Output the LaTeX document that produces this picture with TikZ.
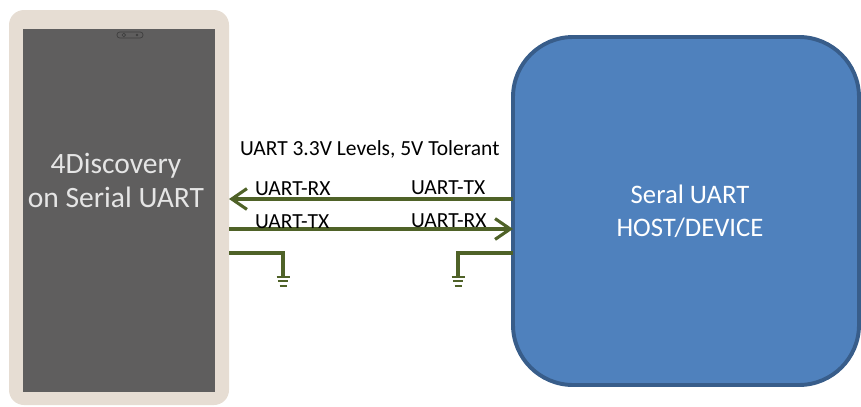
\documentclass[tikz,border=0pt]{standalone}
\usepackage{fontspec}
\setmainfont{Carlito}
\usetikzlibrary{arrows.meta}
\definecolor{wiregreen}{RGB}{79,98,40}
\definecolor{framebeige}{RGB}{230,221,211}
\definecolor{screengray}{RGB}{95,94,94}
\definecolor{camgray}{RGB}{62,62,62}
\definecolor{hostblue}{RGB}{79,129,189}
\definecolor{hostedge}{RGB}{56,93,138}
\begin{document}
\begin{tikzpicture}[inner sep=0pt,outer sep=0pt,
wire/.style={draw=wiregreen,line width=2.2pt},
barb/.style={-{Straight Barb[length=0.38cm,width=0.52cm]}},
gndbar/.style={draw=wiregreen,line width=1.4pt},
lbl/.style={anchor=base west,font=\fontsize{15.3}{17}\selectfont},
hostbox/.style={draw=hostedge,fill=hostblue,line width=2.8pt,rounded corners=1.5cm,minimum width=8.65cm,minimum height=8.7cm,text=white,align=center,font=\fontsize{19}{23.4}\selectfont}]
\useasboundingbox (0,0) rectangle (21.525,10.15);
% display module
\draw (2.975,4.9625) node[fill=framebeige,rounded corners=0.375cm,minimum width=5.5cm,minimum height=9.875cm] (tab) {};
\draw (2.975,4.8875) node[fill=screengray,minimum width=4.8cm,minimum height=9.075cm] (scr) {};
\draw (3.25,9.275) node[draw=camgray,line width=0.5pt,rounded corners=0.07cm,minimum width=0.65cm,minimum height=0.15cm] (cam) {};
\draw[camgray,line width=0.5pt] ([xshift=0.17cm]cam.west) circle (0.045);
\fill[camgray] ([xshift=-0.15cm]cam.east) circle (0.035);
\draw (2.9,5.65) node[text=white!90!black,align=center,font=\fontsize{21}{24.2}\selectfont] (devname) {4Discovery\\on Serial UART};
% host
\draw (17.15,4.875) node[hostbox] (host) {\hspace*{0.2cm}Seral UART\\\hspace*{0.2cm}HOST/DEVICE};
% signals
\draw (6.0,6.275) node[lbl] (title) {UART 3.3V Levels, 5V Tolerant};
\coordinate (rx) at (0,5.175);
\coordinate (tx) at (0,4.425);
\coordinate (gnd) at (0,3.825);
\draw[wire,barb] (host.west |- rx) -- (tab.east |- rx);
\draw[wire,barb] (tab.east |- tx) -- (host.west |- tx);
\draw (6.375,5.275) node[lbl] (lrx) {UART-RX};
\draw (10.275,5.3) node[lbl] (htx) {UART-TX};
\draw (6.375,4.4375) node[lbl] (ltx) {UART-TX};
\draw (10.275,4.475) node[lbl] (hrx) {UART-RX};
% grounds
\draw[wire] (tab.east |- gnd) -| ++(1.35,-0.6) coordinate (gndl);
\draw[wire] (host.west |- gnd) -| ++(-1.375,-0.6) coordinate (gndr);
\foreach \g in {gndl,gndr}{
  \draw[gndbar] ([xshift=-0.1625cm]\g) -- ([xshift=0.1625cm]\g);
  \draw[gndbar] ([shift={(-0.13,-0.108)}]\g) -- ([shift={(0.13,-0.108)}]\g);
  \draw[gndbar] ([shift={(-0.0875,-0.225)}]\g) -- ([shift={(0.0875,-0.225)}]\g);
}
\end{tikzpicture}
\end{document}
